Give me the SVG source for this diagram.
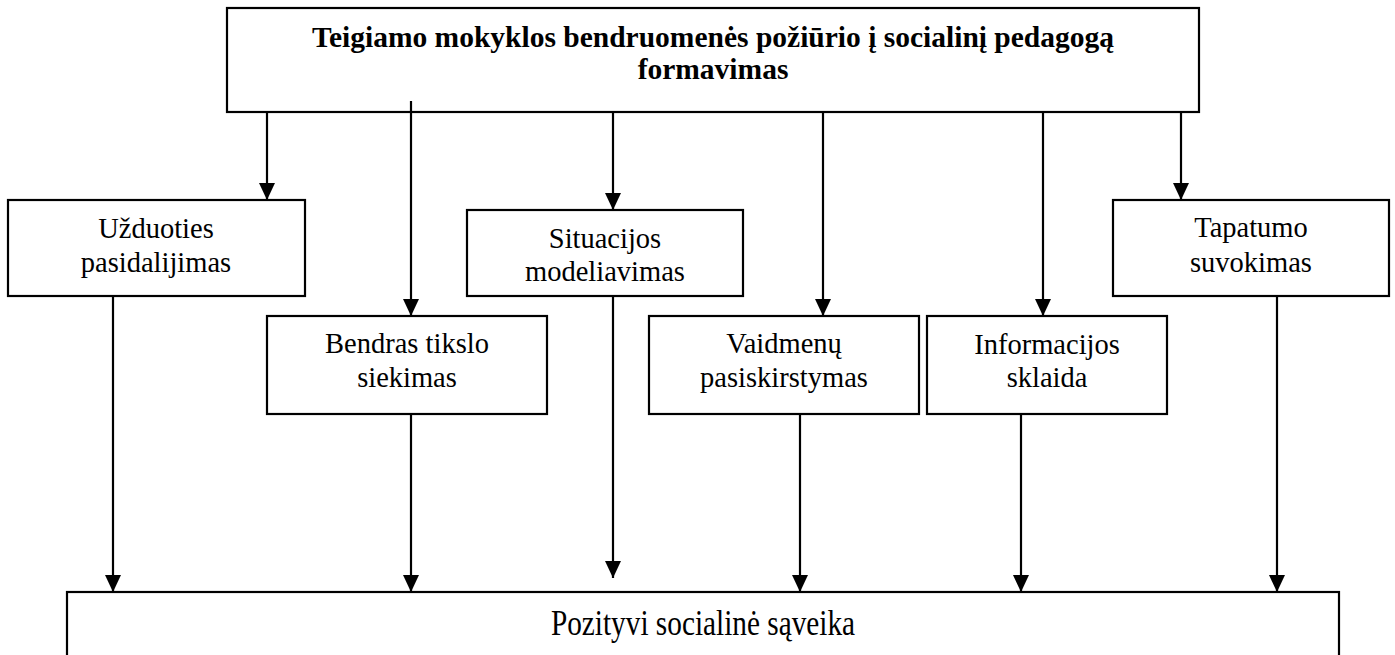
<svg xmlns="http://www.w3.org/2000/svg" width="1395" height="655" viewBox="0 0 1395 655">
<defs>
<marker id="ah" markerUnits="userSpaceOnUse" markerWidth="18" markerHeight="18" viewBox="0 0 18 18" refX="17" refY="9" orient="auto">
<path d="M0,1 L17,9 L0,17 Z" fill="#000"/>
</marker>
<style>
rect{fill:#fff;stroke:#000;stroke-width:2.2}
text{font-family:"Liberation Serif","Times New Roman",serif;font-size:28.5px;fill:#000;text-anchor:middle}
.b{font-weight:bold;font-size:29.5px}
.l{font-size:29.3px}
#connectors line{stroke:#000;stroke-width:2.2;marker-end:url(#ah)}
</style>
</defs>
<rect width="1395" height="655" style="fill:#fff;stroke:none"/>
<g id="top">
<rect x="227" y="8" width="972" height="104"/>
<text class="b" x="713" y="47">Teigiamo mokyklos bendruomenės požiūrio į socialinį pedagogą</text>
<text class="b" x="713" y="79">formavimas</text>
</g>
<g id="uzduoties">
<rect x="8" y="200" width="297" height="96"/>
<text x="156" y="238">Užduoties</text>
<text x="156" y="272">pasidalijimas</text>
</g>
<g id="situacijos">
<rect x="467" y="210" width="276" height="86"/>
<text x="605" y="248">Situacijos</text>
<text x="605" y="281">modeliavimas</text>
</g>
<g id="tapatumo">
<rect x="1113" y="200" width="276" height="96"/>
<text x="1251" y="237">Tapatumo</text>
<text x="1251" y="272">suvokimas</text>
</g>
<g id="bendras">
<rect x="267" y="316" width="280" height="98"/>
<text x="407" y="353">Bendras tikslo</text>
<text x="407" y="387">siekimas</text>
</g>
<g id="vaidmenu">
<rect x="649" y="316" width="270" height="98"/>
<text x="784" y="353">Vaidmenų</text>
<text x="784" y="387">pasiskirstymas</text>
</g>
<g id="informacijos">
<rect x="927" y="316" width="240" height="98"/>
<text x="1047" y="354">Informacijos</text>
<text x="1047" y="387">sklaida</text>
</g>
<g id="pozityvi">
<rect x="67" y="592" width="1272" height="80"/>
<text class="l" x="703" y="0" transform="translate(0,635) scale(1,1.22)">Pozityvi socialinė sąveika</text>
</g>
<g id="connectors">
<line x1="267" y1="112" x2="267" y2="200"/>
<line x1="411" y1="101" x2="411" y2="316"/>
<line x1="613" y1="112" x2="613" y2="210"/>
<line x1="823" y1="112" x2="823" y2="316"/>
<line x1="1043" y1="112" x2="1043" y2="316"/>
<line x1="1181" y1="112" x2="1181" y2="200"/>
<line x1="113" y1="296" x2="113" y2="592"/>
<line x1="411" y1="414" x2="411" y2="592"/>
<line x1="613" y1="296" x2="613" y2="578"/>
<line x1="800" y1="414" x2="800" y2="592"/>
<line x1="1021" y1="414" x2="1021" y2="592"/>
<line x1="1277" y1="296" x2="1277" y2="592"/>
</g>
</svg>
